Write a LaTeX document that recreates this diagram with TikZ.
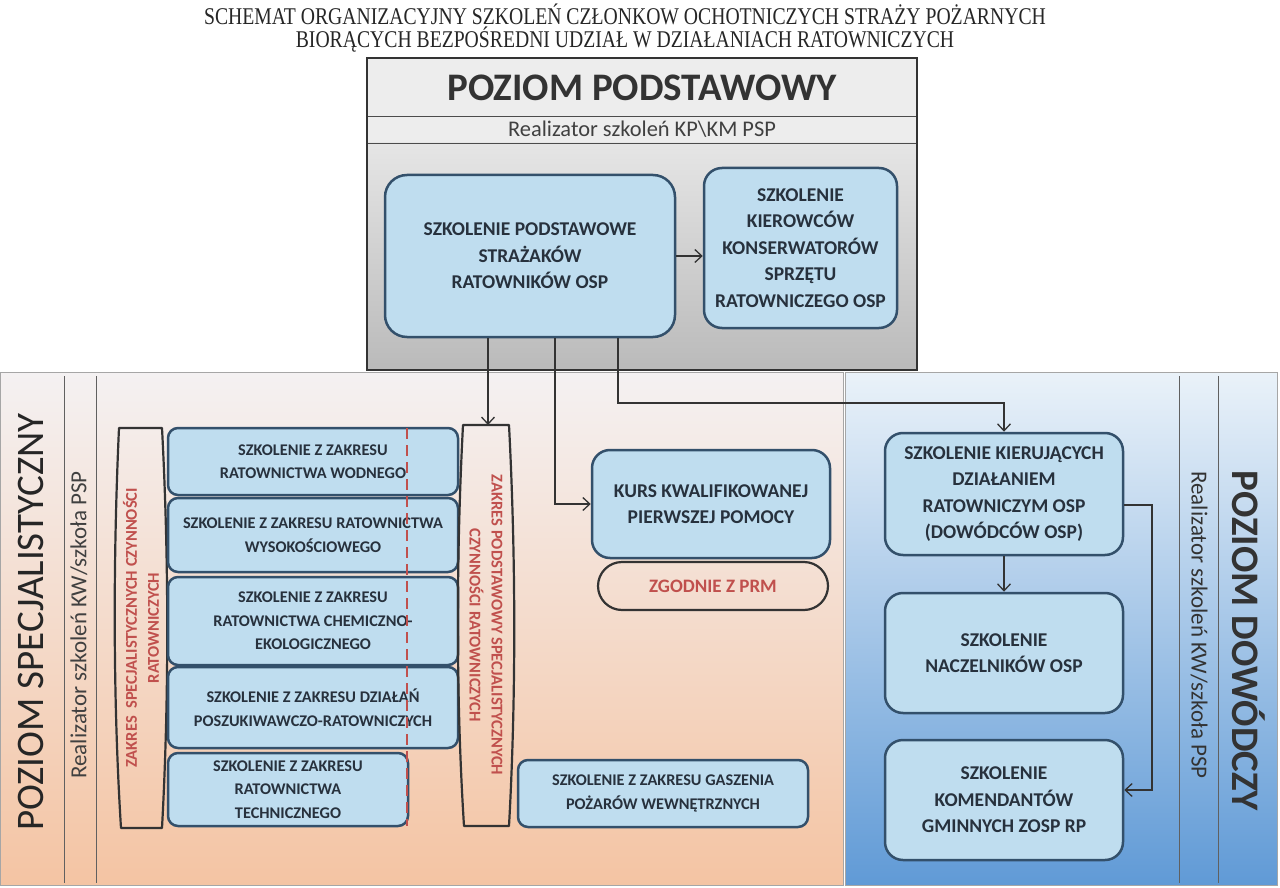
\documentclass[tikz,border=0pt]{standalone}
\usepackage{fontspec}
\setmainfont{Carlito}
\newfontfamily\titlefont[FakeStretch=0.82]{Liberation Serif}
\usetikzlibrary{arrows.meta,calc}
\definecolor{boxfill}{HTML}{BFDDEF}
\definecolor{boxline}{HTML}{33506B}
\definecolor{txt}{HTML}{27313D}
\definecolor{redtxt}{HTML}{C0504D}
\definecolor{conn}{HTML}{333333}
\tikzset{
  every node/.style={text=txt},
  bbox/.style={draw=boxline, line width=2.5pt, fill=boxfill, rounded corners=18pt, align=center, inner sep=0pt,
    font={\bfseries\fontsize{19.5}{26.5}\selectfont}},
  sbox/.style={bbox, rounded corners=10pt, font={\bfseries\fontsize{16.3}{23.5}\selectfont}},
  pill/.style={draw=conn, line width=2.2pt, line join=round},
  redlab/.style={text=redtxt, align=center, font={\bfseries\fontsize{16.5}{22}\selectfont}},
  arr/.style={draw=conn, line width=1.3pt, -{Straight Barb[length=7pt,width=13pt]}},
  sep/.style={draw=gray!75!black, line width=0.9pt},
}
\begin{document}
\begin{tikzpicture}[x=1pt,y=-1pt]
\useasboundingbox (0,0) rectangle (1280,888);
\fill[white] (0,0) rectangle (1280,888);

% title
\node[text=black!85, font={\titlefont\fontsize{24}{28}\selectfont}] (t1) at (625,14) {SCHEMAT ORGANIZACYJNY SZKOLEŃ CZŁONKOW OCHOTNICZYCH STRAŻY POŻARNYCH};
\node[text=black!85, font={\titlefont\fontsize{24}{28}\selectfont}] (t2) at (625,40) {BIORĄCYCH BEZPOŚREDNI UDZIAŁ W DZIAŁANIACH RATOWNICZYCH};

% left panel
\shade[top color={rgb,255:red,244;green,241;blue,242}, middle color={rgb,255:red,243;green,222;blue,212}, bottom color={rgb,255:red,244;green,196;blue,163}] (0,372) rectangle (843,885);
\draw[gray!70, line width=0.8pt] (0,372) rectangle (843,885);
\draw[sep] (64,376) -- (64,883);
\draw[sep] (96,376) -- (96,883);
\node[rotate=90, text=black!85, font={\fontsize{39}{40}\selectfont}] (lt) at (31,622) {POZIOM SPECJALISTYCZNY};
\node[rotate=90, text=black!75, font={\fontsize{23}{26}\selectfont}] (lr) at (79,625) {Realizator szkoleń KW/szkoła PSP};

% right panel
\shade[shading angle=45, top color={rgb,255:red,234;green,242;blue,249}, bottom color={rgb,255:red,96;green,154;blue,214}] (845,372) rectangle (1277,885);
\draw[gray!70, line width=0.8pt] (845,372) rectangle (1277,885);
\draw[sep] (1179,376) -- (1179,883);
\draw[sep] (1218,376) -- (1218,883);
\node[rotate=-90, text=black!80, font={\fontsize{23}{26}\selectfont}] (rr) at (1199,625) {Realizator szkoleń KW/szkoła PSP};
\node[rotate=-90, text=black!80, font={\bfseries\fontsize{39}{40}\selectfont}] (rt) at (1249,641) {POZIOM DOWÓDCZY};

% top box
\fill[black!7] (367,58) rectangle (917,143);
\shade[top color=black!10, bottom color=black!27] (367,143) rectangle (917,370);
\draw[gray!60!black, line width=0.9pt] (367,116) -- (917,116);
\draw[gray!60!black, line width=0.9pt] (367,143) -- (917,143);
\draw[gray!40!black, line width=1.4pt] (367,58) rectangle (917,370);
\node[text=black!80, font={\bfseries\fontsize{39}{42}\selectfont}] (tt) at (642,88) {POZIOM PODSTAWOWY};
\node[text=black!75, font={\fontsize{22.4}{24}\selectfont}] (tr) at (642,129) {Realizator szkoleń KP\textbackslash KM PSP};

\node[bbox, rounded corners=22pt, minimum width=290pt, minimum height=162pt] (b1) at (530,256)
  {SZKOLENIE PODSTAWOWE\\STRAŻAKÓW\\RATOWNIKÓW OSP};
\node[bbox, minimum width=193pt, minimum height=160pt] (b2) at (800.5,248)
  {SZKOLENIE\\KIEROWCÓW\\KONSERWATORÓW\\SPRZĘTU\\RATOWNICZEGO OSP};
\draw[arr] (b1.east) -- (b1.east -| b2.west);

% left pill
\draw[pill] (119,428) -- (162,428) .. controls (169,560) and (169,700) .. (162,828) -- (121,828) .. controls (113,700) and (113,560) .. (119,428) -- cycle;
\node[redlab, rotate=90] (lp) at (141,628) {ZAKRES\ \ SPECJALISTYCZNYCH CZYNNOŚCI\\RATOWNICZYCH};

% stacked boxes
\node[sbox, minimum width=290pt, minimum height=67pt] (s1) at (313,461.5) {SZKOLENIE Z ZAKRESU\\RATOWNICTWA WODNEGO};
\node[sbox, minimum width=290pt, minimum height=74pt] (s2) at (313,535) {SZKOLENIE Z ZAKRESU RATOWNICTWA\\WYSOKOŚCIOWEGO};
\node[sbox, minimum width=290pt, minimum height=88pt] (s3) at (313,621) {SZKOLENIE Z ZAKRESU\\RATOWNICTWA CHEMICZNO-\\EKOLOGICZNEGO};
\node[sbox, minimum width=290pt, minimum height=81pt] (s4) at (313,707.5) {SZKOLENIE Z ZAKRESU DZIAŁAŃ\\POSZUKIWAWCZO-RATOWNICZYCH};
\node[sbox, minimum width=240pt, minimum height=73pt] (s5) at (288,789.5) {SZKOLENIE Z ZAKRESU\\RATOWNICTWA\\TECHNICZNEGO};
\draw[redtxt, line width=2.2pt, dash pattern=on 11pt off 6pt] (407,428) -- (407,826);

% right pill
\draw[pill] (463,425) -- (509,425) .. controls (516,560) and (516,700) .. (509,826) -- (464,826) .. controls (456,700) and (456,560) .. (463,425) -- cycle;
\coordinate (rptop) at (488,425);
\node[redlab, rotate=-90] (rp) at (486,625) {ZAKRES PODSTAWOWY SPECJALISTYCZNYCH\\CZYNNOŚCI RATOWNICZYCH};

% middle boxes
\node[bbox, minimum width=238pt, minimum height=108pt] (kurs) at (711,504) {KURS KWALIFIKOWANEJ\\PIERWSZEJ POMOCY};
\node[draw=conn, line width=2.2pt, rounded corners=24pt, minimum width=230pt, minimum height=48pt, inner sep=0pt,
  redlab, font={\bfseries\fontsize{19}{22}\selectfont}] (prm) at (713,586) {ZGODNIE Z PRM};
\node[sbox, minimum width=290pt, minimum height=67pt] (gas) at (663,793.5) {SZKOLENIE Z ZAKRESU GASZENIA\\POŻARÓW WEWNĘTRZNYCH};

% right boxes
\node[bbox, minimum width=238pt, minimum height=122pt] (k1) at (1004,494) {SZKOLENIE KIERUJĄCYCH\\DZIAŁANIEM\\RATOWNICZYM OSP\\(DOWÓDCÓW OSP)};
\node[bbox, minimum width=238pt, minimum height=120pt] (k2) at (1004,653) {SZKOLENIE\\NACZELNIKÓW OSP};
\node[bbox, minimum width=238pt, minimum height=120pt] (k3) at (1004,800) {SZKOLENIE\\KOMENDANTÓW\\GMINNYCH ZOSP RP};

% connectors
\coordinate (jB) at (555,500);
\coordinate (jA) at (618,403);
\coordinate (jC) at (1152,505);
\draw[arr] (b1.south -| rptop) -- (rptop);
\draw[arr] (b1.south -| jB) |- (kurs.west);
\draw[arr] (b1.south -| jA) -- (jA) -| (k1.north);
\draw[arr] (k1) -- (k2);
\draw[arr] (k1.east |- jC) -- (jC) |- ([yshift=10pt]k3.east);
\end{tikzpicture}
\end{document}
